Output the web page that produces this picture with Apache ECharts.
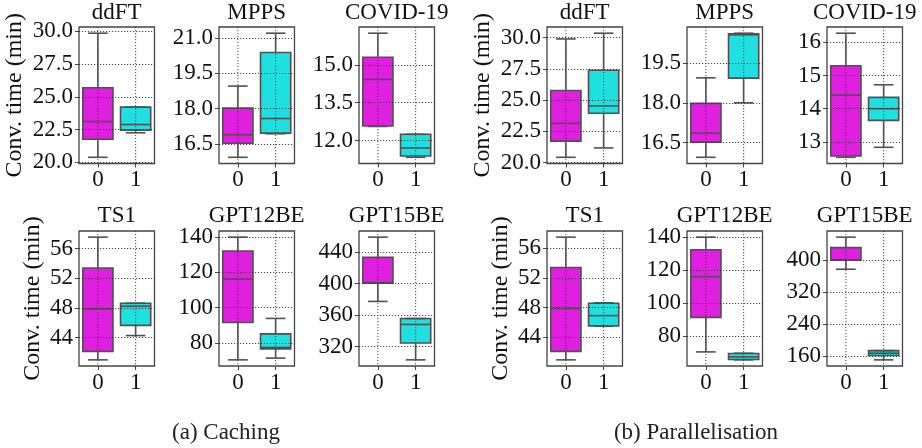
<!DOCTYPE html>
<html>
<head>
<meta charset="utf-8">
<script src="https://cdn.jsdelivr.net/npm/echarts@6/dist/echarts.min.js"></script>
<style>
  html, body { margin: 0; padding: 0; background: #ffffff; }
  #chart { width: 922px; height: 448px; }
</style>
</head>
<body>
<div id="chart"></div>
<script>
// Convergence time per benchmark, configuration 0 vs 1.
// Each box: [lower whisker, Q1, median, Q3, upper whisker] in minutes.
const categories = ['0', '1'];

// (a) Caching
const cachingDdft    = [[20.38, 21.76, 23.11, 25.69, 29.85], [22.25, 22.45, 22.88, 24.21, 24.21]];
const cachingMpps    = [[15.93, 16.53, 16.89, 18.03, 18.96], [16.93, 16.96, 17.58, 20.39, 21.21]];
const cachingCovid   = [[12.56, 12.58, 14.42, 15.30, 16.25], [11.34, 11.39, 11.71, 12.25, 12.25]];
const cachingTs1     = [[40.99, 42.13, 47.87, 53.39, 57.56], [44.27, 45.65, 48.23, 48.63, 48.63]];
const cachingGpt12be = [[70.5, 91.6, 116.1, 132.0, 139.8], [71.5, 76.7, 77.5, 85.2, 93.9]];
const cachingGpt15be = [[377.4, 400.6, 401.2, 433.3, 458.9], [303.3, 324.6, 348.2, 355.7, 355.7]];

// (b) Parallelisation
const parallelDdft    = [[20.43, 21.72, 23.14, 25.77, 29.89], [21.18, 23.95, 24.54, 27.39, 30.35]];
const parallelMpps    = [[15.95, 16.52, 16.86, 17.98, 18.94], [18.00, 18.93, 20.56, 20.60, 20.62]];
const parallelCovid   = [[12.54, 12.58, 14.41, 15.29, 16.27], [12.84, 13.65, 14.00, 14.34, 14.72]];
const parallelTs1     = [[40.99, 42.13, 47.87, 53.39, 57.47], [45.50, 45.56, 46.93, 48.59, 48.65]];
const parallelGpt12be = [[70.6, 91.4, 116.0, 132.2, 139.8], [65.8, 66.0, 67.6, 69.6, 69.8]];
const parallelGpt15be = [[377.5, 400.0, 401.0, 431.7, 458.0], [150.0, 160.8, 166.7, 173.3, 173.3]];

// y-axis tick labels
const ddftTicks          = ['20.0', '22.5', '25.0', '27.5', '30.0'];
const mppsCachingTicks   = ['16.5', '18.0', '19.5', '21.0'];
const mppsParallelTicks  = ['16.5', '18.0', '19.5'];
const covidCachingTicks  = ['12.0', '13.5', '15.0'];
const covidParallelTicks = ['13', '14', '15', '16'];
const ts1Ticks           = ['44', '48', '52', '56'];
const gpt12beTicks       = ['80', '100', '120', '140'];
const gpt15CachingTicks  = ['320', '360', '400', '440'];
const gpt15ParallelTicks = ['160', '240', '320', '400'];

const yAxisTitle = 'Conv. time (min)';
const captions = ['(a) Caching', '(b) Parallelisation'];

const panels = [
  { title: 'ddFT',      stats: cachingDdft,     ticks: ddftTicks },
  { title: 'MPPS',      stats: cachingMpps,     ticks: mppsCachingTicks },
  { title: 'COVID-19',  stats: cachingCovid,    ticks: covidCachingTicks },
  { title: 'TS1',       stats: cachingTs1,      ticks: ts1Ticks },
  { title: 'GPT12BE',   stats: cachingGpt12be,  ticks: gpt12beTicks },
  { title: 'GPT15BE',   stats: cachingGpt15be,  ticks: gpt15CachingTicks },
  { title: 'ddFT',      stats: parallelDdft,    ticks: ddftTicks },
  { title: 'MPPS',      stats: parallelMpps,    ticks: mppsParallelTicks },
  { title: 'COVID-19',  stats: parallelCovid,   ticks: covidParallelTicks },
  { title: 'TS1',       stats: parallelTs1,     ticks: ts1Ticks },
  { title: 'GPT12BE',   stats: parallelGpt12be, ticks: gpt12beTicks },
  { title: 'GPT15BE',   stats: parallelGpt15be, ticks: gpt15ParallelTicks }
];

// ---- layout & style ----
const FONT = "'Liberation Serif', serif";
const FS = 23;
const colLeft = [79, 219, 359, 547, 687, 827];
const panelW = 75.5;
const rowTop = [27, 231];
const rowH = [136.5, 135];
const fills = ['#e01fe0', '#1fe0e0'];
const edge = '#505050';
const gridLineStyle = { color: '#333333', width: 0.9, type: [1.2, 1.8] };
const textBase = { fontFamily: FONT, fontSize: FS, fontWeight: 'normal', color: '#111111' };

function draw() {
  const chart = echarts.init(document.getElementById('chart'), null, { renderer: 'canvas' });
  const grids = [], xAxes = [], yAxes = [], series = [], titles = [];

  panels.forEach((p, i) => {
    const group = Math.floor(i / 6);
    const row = Math.floor((i % 6) / 3);
    const col = group * 3 + (i % 3);
    const left = colLeft[col], top = rowTop[row], height = rowH[row];

    const tickVals = p.ticks.map(Number);
    const interval = tickVals[1] - tickVals[0];
    // axis limits: data span padded by 5% on each side
    const lo = Math.min(p.stats[0][0], p.stats[1][0]);
    const hi = Math.max(p.stats[0][4], p.stats[1][4]);
    const pad = (hi - lo) * 0.05;
    const yMin = lo - pad, yMax = hi + pad;

    grids.push({
      left: left, top: top, width: panelW, height: height,
      show: true, borderColor: '#444444', borderWidth: 1.3,
      backgroundColor: 'transparent', containLabel: false, outerBoundsMode: 'none'
    });

    xAxes.push({
      gridIndex: i, type: 'category', data: categories, boundaryGap: true,
      axisLine: { show: false },
      axisTick: { show: true, alignWithLabel: true, length: 4, lineStyle: { color: '#444444', width: 1 } },
      axisLabel: Object.assign({ margin: 5 }, textBase),
      splitLine: { show: false }
    });

    const firstCol = (i % 3) === 0;
    yAxes.push({
      gridIndex: i, type: 'value', min: yMin, max: yMax, z: 3,
      minInterval: interval, maxInterval: interval,
      axisLine: { show: false },
      axisTick: { show: true, length: 4, customValues: tickVals, lineStyle: { color: '#444444', width: 1 } },
      axisLabel: Object.assign({
        customValues: tickVals, margin: 6,
        formatter: (v) => {
          let best = 0;
          tickVals.forEach((t, k) => { if (Math.abs(t - v) < Math.abs(tickVals[best] - v)) best = k; });
          return p.ticks[best];
        }
      }, textBase),
      splitLine: { show: true, lineStyle: gridLineStyle },
      name: firstCol ? yAxisTitle : '',
      nameLocation: 'middle',
      nameGap: row === 0 ? 52 : 34,
      nameTextStyle: Object.assign({}, textBase, { fontSize: 24 })
    });

    series.push({
      type: 'custom',
      xAxisIndex: i, yAxisIndex: i,
      data: p.stats.map((s, k) => [k].concat(s)),
      encode: { x: 0, y: [1, 2, 3, 4, 5] },
      silent: true,
      renderItem: (params, api) => {
        const k = api.value(0);
        const band = api.size([1, 0])[0];
        const boxHalf = band * 0.4, capHalf = band * 0.26;
        const pLo = api.coord([k, api.value(1)]);
        const pQ1 = api.coord([k, api.value(2)]);
        const pMed = api.coord([k, api.value(3)]);
        const pQ3 = api.coord([k, api.value(4)]);
        const pHi = api.coord([k, api.value(5)]);
        const cx = pQ1[0];
        const cs = params.coordSys;
        const lineSt = { stroke: edge, lineWidth: 1.6, fill: null };
        return {
          type: 'group',
          children: [
            { type: 'rect', shape: { x: cx - boxHalf, y: pQ3[1], width: boxHalf * 2, height: pQ1[1] - pQ3[1] },
              style: { fill: fills[k], stroke: null } },
            { type: 'line', shape: { x1: cx, y1: cs.y, x2: cx, y2: cs.y + cs.height },
              style: { stroke: gridLineStyle.color, lineWidth: gridLineStyle.width, lineDash: gridLineStyle.type } },
            { type: 'line', shape: { x1: cx, y1: pQ3[1], x2: cx, y2: pHi[1] }, style: lineSt },
            { type: 'line', shape: { x1: cx, y1: pQ1[1], x2: cx, y2: pLo[1] }, style: lineSt },
            { type: 'line', shape: { x1: cx - capHalf, y1: pHi[1], x2: cx + capHalf, y2: pHi[1] }, style: lineSt },
            { type: 'line', shape: { x1: cx - capHalf, y1: pLo[1], x2: cx + capHalf, y2: pLo[1] }, style: lineSt },
            { type: 'rect', shape: { x: cx - boxHalf, y: pQ3[1], width: boxHalf * 2, height: pQ1[1] - pQ3[1] },
              style: lineSt },
            { type: 'line', shape: { x1: cx - boxHalf, y1: pMed[1], x2: cx + boxHalf, y2: pMed[1] }, style: lineSt }
          ]
        };
      }
    });

    titles.push({
      text: p.title, left: left + panelW / 2, top: row === 0 ? 1 : 204.5, textAlign: 'center', padding: 0,
      textStyle: Object.assign({}, textBase)
    });
  });

  titles.push(
    { text: captions[0], left: 226, top: 421, textAlign: 'center', padding: 0,
      textStyle: Object.assign({}, textBase, { fontSize: 23, color: '#222222' }) },
    { text: captions[1], left: 696, top: 421, textAlign: 'center', padding: 0,
      textStyle: Object.assign({}, textBase, { fontSize: 23, color: '#222222' }) }
  );

  chart.setOption({
    animation: false,
    backgroundColor: '#ffffff',
    title: titles,
    grid: grids,
    xAxis: xAxes,
    yAxis: yAxes,
    series: series
  });
}

// make sure the serif face is ready before the canvas text is laid out
if (document.fonts && document.fonts.load) {
  document.fonts.load("23px 'Liberation Serif'").then(draw, draw);
} else {
  draw();
}
</script>
</body>
</html>
